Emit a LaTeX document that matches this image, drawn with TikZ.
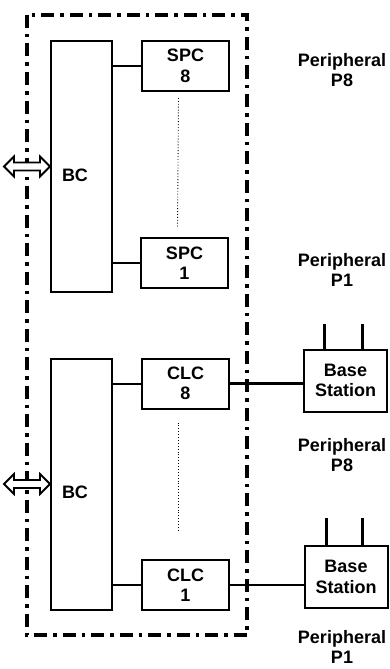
\documentclass[tikz,border=0pt]{standalone}
\usepackage{fontspec}
\setmainfont{Liberation Sans}
\usepackage{tikz}
\usetikzlibrary{positioning}

\begin{document}
\begin{tikzpicture}[
  x=1pt,y=-1pt,
  txt/.style={font=\fontsize{18}{20.5}\selectfont\bfseries,align=center,inner sep=0pt},
  bcbox/.style={draw,line width=2pt,minimum width=61pt,minimum height=251pt,inner sep=0pt},
  ctrl/.style={draw,line width=2pt,minimum width=87pt,minimum height=50pt,txt},
  station/.style={draw,line width=2pt,minimum width=83pt,minimum height=62pt,txt},
  link/.style={line width=2pt},
  radio/.style={line width=3pt},
  ant/.style={line width=3pt},
  frame/.style={line width=3.5pt,dash pattern=on 13pt off 6pt on 3.5pt off 6pt},
  dblarrow/.style={draw,fill=white,line width=1.8pt,line join=miter},
  dots/.style={dotted,line width=0.9pt}
]
\useasboundingbox (0,0) rectangle (390,669);

% boundary
\draw[frame] (27,15) rectangle (247,635);

% upper half
\node[bcbox] (bc1) at (81.5,166.5) {};
\node[txt] (bc1txt) at (75,175) {BC};
\node[ctrl] (spc8) at (185.5,66) {SPC\\8};
\node[ctrl] (spc1) at (184.5,263) {SPC\\1};
\node[txt] (per8a) at (342,70) {Peripheral\\P8};
\node[txt] (per1a) at (342,270) {Peripheral\\P1};

% lower half
\node[bcbox] (bc2) at (81.5,484) {};
\node[txt] (bc2txt) at (75,492) {BC};
\node[ctrl] (clc8) at (185.5,383.5) {CLC\\8};
\node[ctrl] (clc1) at (185.5,585) {CLC\\1};
\node[station] (bs8) at (345.5,380.5) {Base\\Station};
\node[station] (bs1) at (346,577) {Base\\Station};
\node[txt] (per8b) at (342,455) {Peripheral\\P8};
\node[txt] (per1b) at (342,647) {Peripheral\\P1};

\draw[link] (spc8.west) -- (spc8.west -| bc1.east);
\draw[link] (spc1.west) -- (spc1.west -| bc1.east);
\draw[link] (clc8.west) -- (clc8.west -| bc2.east);
\draw[link] (clc1.west) -- (clc1.west -| bc2.east);
\draw[dots] ([xshift=-7pt,yshift=-6pt]spc8.south) -- ([xshift=-7pt,yshift=10pt]spc1.north);
\draw[dots] ([xshift=-7pt,yshift=-13pt]clc8.south) -- ([xshift=-7pt,yshift=27pt]clc1.north);

\draw[radio] (clc8.east) -- (clc8.east -| bs8.west);
\draw[link] (clc1.east) -- (clc1.east -| bs1.west);

\draw[ant] ([xshift=21pt]bs8.north west) -- ++(0,-25);
\draw[ant] ([xshift=59pt]bs8.north west) -- ++(0,-25);
\draw[ant] ([xshift=23pt]bs1.north west) -- ++(0,-27);
\draw[ant] ([xshift=59pt]bs1.north west) -- ++(0,-27);

\draw[dblarrow] (bc1.west) -- ++(-10,-10) -- ++(0,6) -- ++(-26,0) -- ++(0,-6)
  -- ++(-10,10) -- ++(10,10) -- ++(0,-6) -- ++(26,0) -- ++(0,6) -- cycle;
\draw[dblarrow] (bc2.west) -- ++(-10,-10) -- ++(0,6) -- ++(-26,0) -- ++(0,-6)
  -- ++(-10,10) -- ++(10,10) -- ++(0,-6) -- ++(26,0) -- ++(0,6) -- cycle;
\end{tikzpicture}
\end{document}
